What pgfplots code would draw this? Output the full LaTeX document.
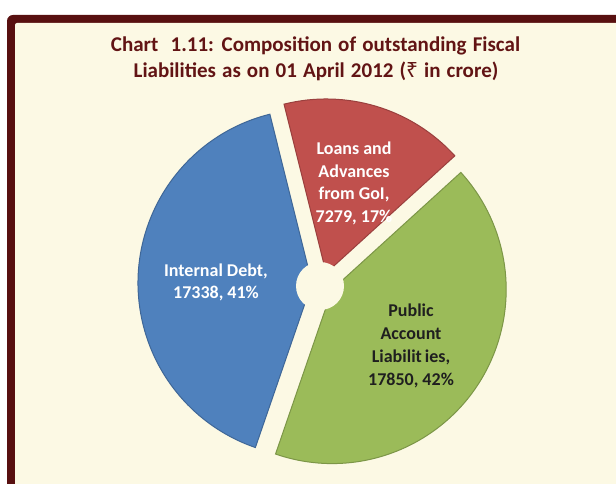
\documentclass[border=0pt]{standalone}
\usepackage{pgfplots}
\pgfplotsset{compat=1.18}
\usepackage{fontspec}
\setmainfont{Carlito}
\newfontfamily\rupee{Noto Sans}
\newcommand\ttlspace{\spaceskip=6.1pt plus 1pt\relax}

\definecolor{cream}{RGB}{252,249,228}
\definecolor{frame}{RGB}{88,16,16}
\definecolor{titlered}{RGB}{98,20,20}
\definecolor{sblue}{RGB}{79,129,189}
\definecolor{sred}{RGB}{192,80,77}
\definecolor{sgreen}{RGB}{155,187,89}

\begin{document}
\begin{tikzpicture}
\edef\total{\fpeval{17850+7279+17338}}
\begin{axis}[x=1pt, y=1pt, xmin=0, xmax=616, ymin=0, ymax=484,
  scale only axis, enlargelimits=false, hide axis, clip=false]

% frame and background
\fill[white] (axis cs:0,0) rectangle (axis cs:616,484);
\fill[frame, rounded corners=6pt] (axis cs:7,-30) rectangle (axis cs:660,469);
\fill[cream, rounded corners=2pt] (axis cs:15,-30) rectangle (axis cs:660,461);

% slices: value/colour, counter-clockwise from -109 deg
\gdef\cum{-109}
\foreach \v/\c in {17850/sgreen, 7279/sred, 17338/sblue} {
  \edef\s{\cum}
  \edef\e{\fpeval{round(\cum+\v/\total*360,3)}}
  \edef\m{\fpeval{(\s+\e)/2}}
  \edef\ax{\fpeval{round(323+11*cosd(\m),3)}}
  \edef\ay{\fpeval{round(200.5+11*sind(\m),3)}}
  \edef\temp{\noexpand\fill[\c, draw=\c!80!black, line width=1pt]
    (axis cs:\ax,\ay) -- ++(\s:174pt) arc[start angle=\s, end angle=\e, radius=174pt] -- cycle;}
  \temp
  \xdef\cum{\e}
}
\fill[cream] (axis cs:320,198) circle[radius=24pt];

% title
\tikzset{ttl/.style={anchor=base, text=titlered,
  font=\fontsize{21}{26}\selectfont\bfseries\ttlspace}}
\node[ttl] at (axis cs:315.5,432.3) {Chart\ \ 1.11: Composition of outstanding Fiscal};
\node[ttl] at (axis cs:316,406.3) {Liabilities as on 01 April 2012 ({\rupee\bfseries ₹} in crore)};

% labels
\tikzset{lab/.style={anchor=base, font=\fontsize{18}{22}\selectfont\bfseries}}
\node[lab, text=white] at (axis cs:216,207) {Internal Debt,};
\node[lab, text=white] at (axis cs:216,185) {17338, 41\%};

\node[lab, text=white] at (axis cs:354,329) {Loans and};
\node[lab, text=white] at (axis cs:354,306.5) {Advances};
\node[lab, text=white] at (axis cs:354,284) {from GoI,};
\node[lab, text=white] at (axis cs:354,261) {7279, 17\%};

\node[lab, text=black!88] at (axis cs:411,167) {Public};
\node[lab, text=black!88] at (axis cs:411,144) {Account};
\node[lab, text=black!88] at (axis cs:411,121) {Liabilit\hspace{3pt}ies,};
\node[lab, text=black!88] at (axis cs:411,98) {17850, 42\%};
\end{axis}
\pgfresetboundingbox
\path (0,0) rectangle (616pt,484pt);
\end{tikzpicture}
\end{document}
